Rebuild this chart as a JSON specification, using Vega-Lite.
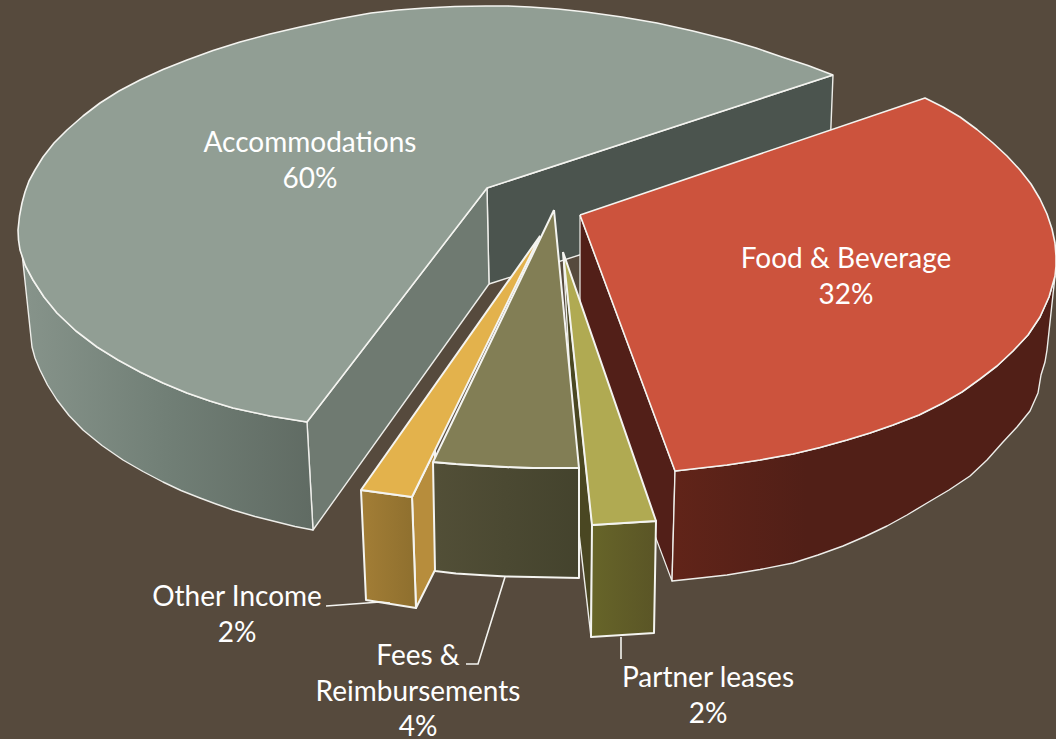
{"$schema":"https://vega.github.io/schema/vega-lite/v6.json","width":1056,"height":739,"autosize":"none","padding":0,"background":"#564a3d","config":{"view":{"stroke":null}},
"datasets":{"labels":[{"label":"Accommodations\n60%","share":60,"x":310,"y":152},{"label":"Food & Beverage\n32%","share":32,"x":846,"y":268},{"label":"Other Income\n2%","share":2,"x":237,"y":606},{"label":"Fees &\nReimbursements\n4%","share":4,"x":418,"y":665},{"label":"Partner leases\n2%","share":2,"x":708,"y":687}],
"outline":[
{"face":"acc-back","seq":1,"x":487,"y":188},{"face":"acc-back","seq":2,"x":833,"y":75},{"face":"acc-back","seq":3,"x":829,"y":175},{"face":"acc-back","seq":4,"x":489,"y":284},{"face":"acc-back","seq":5,"x":487,"y":188},
{"face":"acc-inner","seq":1,"x":307,"y":422},{"face":"acc-inner","seq":2,"x":487,"y":188},{"face":"acc-inner","seq":3,"x":489,"y":284},{"face":"acc-inner","seq":4,"x":313,"y":530},{"face":"acc-inner","seq":5,"x":307,"y":422},
{"face":"acc-side","seq":1,"x":20,"y":248},{"face":"acc-side","seq":2,"x":25.5,"y":266},{"face":"acc-side","seq":3,"x":33,"y":280},{"face":"acc-side","seq":4,"x":44,"y":297},{"face":"acc-side","seq":5,"x":57,"y":313},{"face":"acc-side","seq":6,"x":76,"y":331},{"face":"acc-side","seq":7,"x":97,"y":347},{"face":"acc-side","seq":8,"x":118,"y":360},{"face":"acc-side","seq":9,"x":140,"y":372},{"face":"acc-side","seq":10,"x":163,"y":383},{"face":"acc-side","seq":11,"x":187,"y":393},{"face":"acc-side","seq":12,"x":210,"y":401},{"face":"acc-side","seq":13,"x":233,"y":408},{"face":"acc-side","seq":14,"x":270,"y":416},{"face":"acc-side","seq":15,"x":307,"y":422},{"face":"acc-side","seq":16,"x":313,"y":530},{"face":"acc-side","seq":17,"x":295,"y":526.5},{"face":"acc-side","seq":18,"x":277,"y":522},{"face":"acc-side","seq":19,"x":255,"y":516.5},{"face":"acc-side","seq":20,"x":233,"y":510},{"face":"acc-side","seq":21,"x":216,"y":504},{"face":"acc-side","seq":22,"x":200,"y":498},{"face":"acc-side","seq":23,"x":181,"y":490.5},{"face":"acc-side","seq":24,"x":163,"y":482},{"face":"acc-side","seq":25,"x":143,"y":471.5},{"face":"acc-side","seq":26,"x":123,"y":460},{"face":"acc-side","seq":27,"x":102,"y":445.5},{"face":"acc-side","seq":28,"x":83,"y":430},{"face":"acc-side","seq":29,"x":69,"y":415.5},{"face":"acc-side","seq":30,"x":57,"y":400},{"face":"acc-side","seq":31,"x":47.5,"y":385},{"face":"acc-side","seq":32,"x":40,"y":370},{"face":"acc-side","seq":33,"x":35,"y":358},{"face":"acc-side","seq":34,"x":32,"y":347},{"face":"acc-side","seq":35,"x":27,"y":300},{"face":"acc-side","seq":36,"x":22,"y":253},{"face":"acc-side","seq":37,"x":20,"y":248},
{"face":"acc-top","seq":1,"x":833,"y":75},{"face":"acc-top","seq":2,"x":808,"y":65.5},{"face":"acc-top","seq":3,"x":782,"y":57},{"face":"acc-top","seq":4,"x":756,"y":48},{"face":"acc-top","seq":5,"x":729,"y":40},{"face":"acc-top","seq":6,"x":693,"y":31},{"face":"acc-top","seq":7,"x":657,"y":23},{"face":"acc-top","seq":8,"x":622,"y":17},{"face":"acc-top","seq":9,"x":586,"y":12},{"face":"acc-top","seq":10,"x":558,"y":9},{"face":"acc-top","seq":11,"x":530,"y":7},{"face":"acc-top","seq":12,"x":508,"y":6},{"face":"acc-top","seq":13,"x":486,"y":6},{"face":"acc-top","seq":14,"x":455,"y":6.5},{"face":"acc-top","seq":15,"x":425,"y":8},{"face":"acc-top","seq":16,"x":398,"y":10},{"face":"acc-top","seq":17,"x":371,"y":13},{"face":"acc-top","seq":18,"x":335,"y":19.5},{"face":"acc-top","seq":19,"x":300,"y":27},{"face":"acc-top","seq":20,"x":270,"y":34},{"face":"acc-top","seq":21,"x":240,"y":42},{"face":"acc-top","seq":22,"x":213,"y":50.5},{"face":"acc-top","seq":23,"x":187,"y":60},{"face":"acc-top","seq":24,"x":163,"y":69.5},{"face":"acc-top","seq":25,"x":140,"y":80},{"face":"acc-top","seq":26,"x":119,"y":91},{"face":"acc-top","seq":27,"x":100,"y":103},{"face":"acc-top","seq":28,"x":83,"y":116},{"face":"acc-top","seq":29,"x":67,"y":130},{"face":"acc-top","seq":30,"x":54,"y":143},{"face":"acc-top","seq":31,"x":43,"y":157},{"face":"acc-top","seq":32,"x":35,"y":170},{"face":"acc-top","seq":33,"x":29,"y":181},{"face":"acc-top","seq":34,"x":25,"y":192},{"face":"acc-top","seq":35,"x":22,"y":203},{"face":"acc-top","seq":36,"x":19.5,"y":216},{"face":"acc-top","seq":37,"x":18,"y":230},{"face":"acc-top","seq":38,"x":18.5,"y":240},{"face":"acc-top","seq":39,"x":20,"y":250},{"face":"acc-top","seq":40,"x":25.5,"y":266},{"face":"acc-top","seq":41,"x":33,"y":280},{"face":"acc-top","seq":42,"x":44,"y":297},{"face":"acc-top","seq":43,"x":57,"y":313},{"face":"acc-top","seq":44,"x":76,"y":331},{"face":"acc-top","seq":45,"x":97,"y":347},{"face":"acc-top","seq":46,"x":118,"y":360},{"face":"acc-top","seq":47,"x":140,"y":372},{"face":"acc-top","seq":48,"x":163,"y":383},{"face":"acc-top","seq":49,"x":187,"y":393},{"face":"acc-top","seq":50,"x":210,"y":401},{"face":"acc-top","seq":51,"x":233,"y":408},{"face":"acc-top","seq":52,"x":270,"y":416},{"face":"acc-top","seq":53,"x":307,"y":422},{"face":"acc-top","seq":54,"x":487,"y":188},{"face":"acc-top","seq":55,"x":833,"y":75},
{"face":"red-inner","seq":1,"x":580,"y":215},{"face":"red-inner","seq":2,"x":675,"y":471},{"face":"red-inner","seq":3,"x":672,"y":581},{"face":"red-inner","seq":4,"x":580,"y":335},{"face":"red-inner","seq":5,"x":580,"y":215},
{"face":"red-side","seq":1,"x":675,"y":471},{"face":"red-side","seq":2,"x":701,"y":468},{"face":"red-side","seq":3,"x":727,"y":465},{"face":"red-side","seq":4,"x":760,"y":460},{"face":"red-side","seq":5,"x":793,"y":454},{"face":"red-side","seq":6,"x":820,"y":447.5},{"face":"red-side","seq":7,"x":847,"y":440},{"face":"red-side","seq":8,"x":870,"y":433},{"face":"red-side","seq":9,"x":893,"y":425},{"face":"red-side","seq":10,"x":919,"y":415},{"face":"red-side","seq":11,"x":943,"y":403},{"face":"red-side","seq":12,"x":962,"y":392},{"face":"red-side","seq":13,"x":980,"y":379},{"face":"red-side","seq":14,"x":997,"y":366},{"face":"red-side","seq":15,"x":1013,"y":351},{"face":"red-side","seq":16,"x":1028,"y":335},{"face":"red-side","seq":17,"x":1040,"y":317},{"face":"red-side","seq":18,"x":1049,"y":297},{"face":"red-side","seq":19,"x":1055,"y":276},{"face":"red-side","seq":20,"x":1051,"y":313},{"face":"red-side","seq":21,"x":1047,"y":350},{"face":"red-side","seq":22,"x":1045,"y":362},{"face":"red-side","seq":23,"x":1041,"y":375},{"face":"red-side","seq":24,"x":1038,"y":393},{"face":"red-side","seq":25,"x":1030,"y":411},{"face":"red-side","seq":26,"x":1017,"y":427},{"face":"red-side","seq":27,"x":1003,"y":442},{"face":"red-side","seq":28,"x":987,"y":460},{"face":"red-side","seq":29,"x":970,"y":476},{"face":"red-side","seq":30,"x":949,"y":490},{"face":"red-side","seq":31,"x":927,"y":503},{"face":"red-side","seq":32,"x":907,"y":515},{"face":"red-side","seq":33,"x":887,"y":526},{"face":"red-side","seq":34,"x":865,"y":536.5},{"face":"red-side","seq":35,"x":843,"y":546},{"face":"red-side","seq":36,"x":818,"y":555},{"face":"red-side","seq":37,"x":793,"y":563},{"face":"red-side","seq":38,"x":760,"y":569.5},{"face":"red-side","seq":39,"x":727,"y":575},{"face":"red-side","seq":40,"x":700,"y":578},{"face":"red-side","seq":41,"x":672,"y":581},{"face":"red-side","seq":42,"x":675,"y":471},
{"face":"red-top","seq":1,"x":580,"y":215},{"face":"red-top","seq":2,"x":925,"y":98},{"face":"red-top","seq":3,"x":943,"y":107},{"face":"red-top","seq":4,"x":960,"y":117},{"face":"red-top","seq":5,"x":977,"y":129.5},{"face":"red-top","seq":6,"x":993,"y":143},{"face":"red-top","seq":7,"x":1007,"y":156},{"face":"red-top","seq":8,"x":1020,"y":170},{"face":"red-top","seq":9,"x":1031,"y":184},{"face":"red-top","seq":10,"x":1040,"y":199},{"face":"red-top","seq":11,"x":1047,"y":214},{"face":"red-top","seq":12,"x":1052,"y":229},{"face":"red-top","seq":13,"x":1055,"y":243},{"face":"red-top","seq":14,"x":1056,"y":256},{"face":"red-top","seq":15,"x":1056,"y":266},{"face":"red-top","seq":16,"x":1055,"y":276},{"face":"red-top","seq":17,"x":1049,"y":297},{"face":"red-top","seq":18,"x":1040,"y":317},{"face":"red-top","seq":19,"x":1028,"y":335},{"face":"red-top","seq":20,"x":1013,"y":351},{"face":"red-top","seq":21,"x":997,"y":366},{"face":"red-top","seq":22,"x":980,"y":379},{"face":"red-top","seq":23,"x":962,"y":392},{"face":"red-top","seq":24,"x":943,"y":403},{"face":"red-top","seq":25,"x":919,"y":415},{"face":"red-top","seq":26,"x":893,"y":425},{"face":"red-top","seq":27,"x":870,"y":433},{"face":"red-top","seq":28,"x":847,"y":440},{"face":"red-top","seq":29,"x":820,"y":447.5},{"face":"red-top","seq":30,"x":793,"y":454},{"face":"red-top","seq":31,"x":760,"y":460},{"face":"red-top","seq":32,"x":727,"y":465},{"face":"red-top","seq":33,"x":701,"y":468},{"face":"red-top","seq":34,"x":675,"y":471},{"face":"red-top","seq":35,"x":580,"y":215},
{"face":"partner-inner","seq":1,"x":563,"y":252},{"face":"partner-inner","seq":2,"x":592,"y":525},{"face":"partner-inner","seq":3,"x":591,"y":637},{"face":"partner-inner","seq":4,"x":579,"y":533},{"face":"partner-inner","seq":5,"x":563,"y":252},
{"face":"partner-front","seq":1,"x":592,"y":525},{"face":"partner-front","seq":2,"x":656,"y":521},{"face":"partner-front","seq":3,"x":654,"y":633},{"face":"partner-front","seq":4,"x":591,"y":637},{"face":"partner-front","seq":5,"x":592,"y":525},
{"face":"partner-top","seq":1,"x":563,"y":252},{"face":"partner-top","seq":2,"x":656,"y":521},{"face":"partner-top","seq":3,"x":592,"y":525},{"face":"partner-top","seq":4,"x":563,"y":252},
{"face":"other-right","seq":1,"x":412,"y":497},{"face":"other-right","seq":2,"x":435,"y":450},{"face":"other-right","seq":3,"x":435,"y":570},{"face":"other-right","seq":4,"x":416,"y":608},{"face":"other-right","seq":5,"x":412,"y":497},
{"face":"other-front","seq":1,"x":361,"y":490},{"face":"other-front","seq":2,"x":412,"y":497},{"face":"other-front","seq":3,"x":416,"y":608},{"face":"other-front","seq":4,"x":366,"y":600},{"face":"other-front","seq":5,"x":361,"y":490},
{"face":"other-top","seq":1,"x":540,"y":236},{"face":"other-top","seq":2,"x":412,"y":497},{"face":"other-top","seq":3,"x":361,"y":490},{"face":"other-top","seq":4,"x":540,"y":236},
{"face":"fees-front","seq":1,"x":433,"y":462},{"face":"fees-front","seq":2,"x":456,"y":464},{"face":"fees-front","seq":3,"x":480,"y":465.5},{"face":"fees-front","seq":4,"x":506,"y":467},{"face":"fees-front","seq":5,"x":533,"y":468},{"face":"fees-front","seq":6,"x":579,"y":468},{"face":"fees-front","seq":7,"x":579,"y":578},{"face":"fees-front","seq":8,"x":533,"y":577},{"face":"fees-front","seq":9,"x":506,"y":576.5},{"face":"fees-front","seq":10,"x":480,"y":575},{"face":"fees-front","seq":11,"x":456,"y":573.5},{"face":"fees-front","seq":12,"x":435,"y":571},{"face":"fees-front","seq":13,"x":433,"y":462},
{"face":"fees-top","seq":1,"x":554,"y":210},{"face":"fees-top","seq":2,"x":579,"y":468},{"face":"fees-top","seq":3,"x":533,"y":468},{"face":"fees-top","seq":4,"x":506,"y":467},{"face":"fees-top","seq":5,"x":480,"y":465.5},{"face":"fees-top","seq":6,"x":456,"y":464},{"face":"fees-top","seq":7,"x":433,"y":462},{"face":"fees-top","seq":8,"x":554,"y":210},
{"face":"leader-other","seq":1,"x":326,"y":606},{"face":"leader-other","seq":2,"x":380,"y":602},{"face":"leader-other","seq":3,"x":390,"y":603},
{"face":"leader-fees","seq":1,"x":466,"y":664},{"face":"leader-fees","seq":2,"x":478,"y":664},{"face":"leader-fees","seq":3,"x":505,"y":577},
{"face":"leader-partner","seq":1,"x":621,"y":637},{"face":"leader-partner","seq":2,"x":621,"y":659}
]},
"data":{"name":"outline"},
"encoding":{"x":{"field":"x","type":"quantitative","scale":{"domain":[0,1056],"nice":false,"zero":false},"axis":null},"y":{"field":"y","type":"quantitative","scale":{"domain":[739,0],"nice":false,"zero":false},"axis":null},"order":{"field":"seq","type":"quantitative"}},
"layer":[
{"transform":[{"filter":"datum.face==='acc-back'"}],"mark":{"type":"line","fill":"#4b544e","stroke":"#eeeeea","strokeWidth":1.4,"strokeJoin":"round"}},
{"transform":[{"filter":"datum.face==='acc-inner'"}],"mark":{"type":"line","fill":"#6f7a71","stroke":"#eeeeea","strokeWidth":1.4,"strokeJoin":"round"}},
{"transform":[{"filter":"datum.face==='acc-side'"}],"mark":{"type":"line","fill":{"gradient":"linear","x1":0,"y1":0,"x2":1,"y2":0,"stops":[{"offset":0,"color":"#87948b"},{"offset":0.5,"color":"#717f76"},{"offset":1,"color":"#606b63"}]},"stroke":"#eeeeea","strokeWidth":1.4,"strokeJoin":"round"}},
{"transform":[{"filter":"datum.face==='acc-top'"}],"mark":{"type":"line","fill":"#919e94","stroke":"#f4f4f0","strokeWidth":1.6,"strokeJoin":"round"}},
{"transform":[{"filter":"datum.face==='partner-inner'"}],"mark":{"type":"line","fill":"#4a4722","stroke":"#eeeeea","strokeWidth":1.4,"strokeJoin":"round"}},
{"transform":[{"filter":"datum.face==='red-inner'"}],"mark":{"type":"line","fill":"#521f18","stroke":"#eeeeea","strokeWidth":1.2,"strokeJoin":"round"}},
{"transform":[{"filter":"datum.face==='red-side'"}],"mark":{"type":"line","fill":{"gradient":"linear","x1":0,"y1":0,"x2":1,"y2":0,"stops":[{"offset":0,"color":"#612419"},{"offset":0.35,"color":"#511f17"},{"offset":1,"color":"#511f17"}]},"stroke":"#eeeeea","strokeWidth":1.4,"strokeJoin":"round"}},
{"transform":[{"filter":"datum.face==='red-top'"}],"mark":{"type":"line","fill":"#cc533d","stroke":"#f4f4f0","strokeWidth":1.6,"strokeJoin":"round"}},
{"transform":[{"filter":"datum.face==='partner-front'"}],"mark":{"type":"line","fill":{"gradient":"linear","x1":0,"y1":0,"x2":1,"y2":0,"stops":[{"offset":0,"color":"#676529"},{"offset":1,"color":"#5a5526"}]},"stroke":"#f4f4f0","strokeWidth":2,"strokeJoin":"round"}},
{"transform":[{"filter":"datum.face==='partner-top'"}],"mark":{"type":"line","fill":"#b0aa52","stroke":"#f4f4f0","strokeWidth":2,"strokeJoin":"round"}},
{"transform":[{"filter":"datum.face==='other-right'"}],"mark":{"type":"line","fill":"#b78d3c","stroke":"#f4f4f0","strokeWidth":2,"strokeJoin":"round"}},
{"transform":[{"filter":"datum.face==='other-front'"}],"mark":{"type":"line","fill":{"gradient":"linear","x1":0,"y1":0,"x2":1,"y2":0,"stops":[{"offset":0,"color":"#a37e36"},{"offset":1,"color":"#8e6f2e"}]},"stroke":"#f4f4f0","strokeWidth":2,"strokeJoin":"round"}},
{"transform":[{"filter":"datum.face==='other-top'"}],"mark":{"type":"line","fill":"#e3b24c","stroke":"#f4f4f0","strokeWidth":2,"strokeJoin":"round"}},
{"transform":[{"filter":"datum.face==='fees-front'"}],"mark":{"type":"line","fill":{"gradient":"linear","x1":0,"y1":0,"x2":1,"y2":0,"stops":[{"offset":0,"color":"#524f37"},{"offset":1,"color":"#44432d"}]},"stroke":"#f4f4f0","strokeWidth":2,"strokeJoin":"round"}},
{"transform":[{"filter":"datum.face==='fees-top'"}],"mark":{"type":"line","fill":"#827e55","stroke":"#f4f4f0","strokeWidth":2,"strokeJoin":"round"}},
{"transform":[{"filter":"datum.face==='leader-other'"}],"mark":{"type":"line","stroke":"#f4f4f0","strokeWidth":1.6}},
{"transform":[{"filter":"datum.face==='leader-fees'"}],"mark":{"type":"line","stroke":"#f4f4f0","strokeWidth":1.6}},
{"transform":[{"filter":"datum.face==='leader-partner'"}],"mark":{"type":"line","stroke":"#f4f4f0","strokeWidth":1.6}},
{"data":{"name":"labels"},"mark":{"type":"text","font":"Lato","fontSize":28,"lineHeight":35.5,"lineBreak":"\n","align":"center","baseline":"alphabetic","color":"#ffffff"},"encoding":{"text":{"field":"label"},"order":{"value":null}}}
]}
